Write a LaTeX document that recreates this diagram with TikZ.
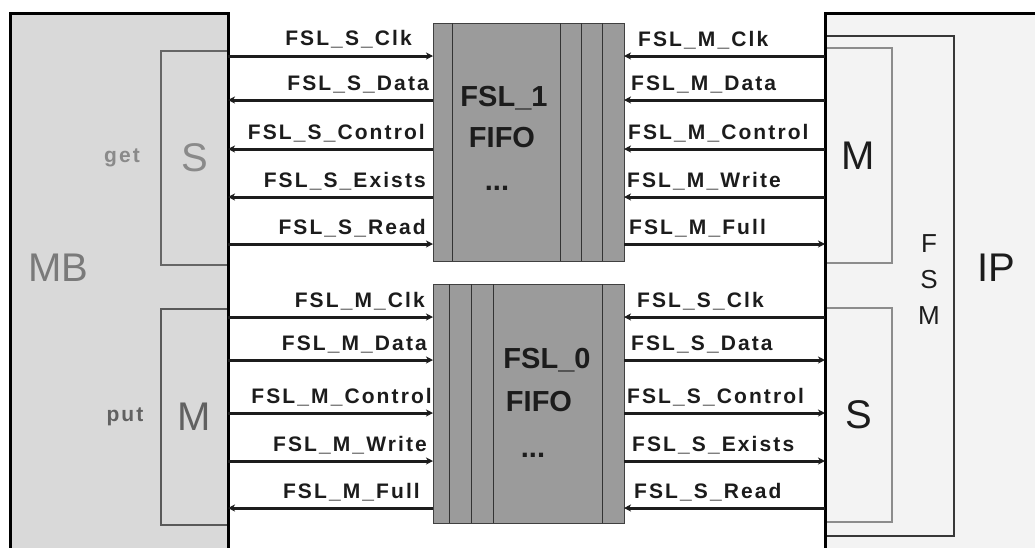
\documentclass[tikz,border=0pt]{standalone}
\usepackage{fontspec}
\setmainfont{Liberation Sans}
\newfontfamily\sigfont[LetterSpace=10]{Liberation Sans}
\usetikzlibrary{arrows.meta}
\definecolor{mbfill}{HTML}{D9D9D9}
\definecolor{ipfill}{HTML}{F3F3F3}
\definecolor{fifofill}{HTML}{9B9B9B}
\definecolor{ink}{HTML}{1C1C1C}
\definecolor{mbtext}{HTML}{8A8A8A}
\definecolor{mbtextdark}{HTML}{616161}
\begin{document}
\begin{tikzpicture}[x=1pt,y=-1pt,
  >={Stealth[length=7pt,width=7pt,inset=2pt]},
  box/.style={anchor=north west, inner sep=0pt, outer sep=0pt},
  border/.style={draw=black, line width=3pt},
  wire/.style={line width=3pt, draw=ink},
  sig/.style={font=\sigfont\bfseries\fontsize{21}{23}\selectfont, text=ink, inner sep=0pt},
  big/.style={font=\fontsize{40}{40}\selectfont, inner sep=0pt},
  fsm/.style={font=\fontsize{26}{26}\selectfont, inner sep=0pt, text=ink},
  fifotitle/.style={font=\bfseries\fontsize{29}{30}\selectfont, text=ink, inner sep=0pt},
  fifoline/.style={draw=black!80, line width=1pt},
  port/.style={box, draw, line width=1.3pt, font=\fontsize{40}{40}\selectfont},
]
\useasboundingbox (0,0) rectangle (1035,547);
\clip (0,0) rectangle (1035,547);

% ---------- MicroBlaze side ----------
\node[box, fill=mbfill, minimum width=218pt, minimum height=560pt] (mb) at (10,13) {};
\node[port, draw=black!60, text=mbtext, minimum width=67pt, minimum height=214pt] (mbS) at (161,51) {S};
\node[port, draw=black!65, text=mbtextdark, minimum width=67pt, minimum height=216pt] (mbM) at (161,309) {M};
\draw[border] (mb.south west) -- (mb.north west) -- (mb.north east) -- (mb.south east);
\node[big, text=black!52] (mbname) at (58,268) {MB};
\node[sig, text=mbtext] (get) at (122,158) {get};
\node[sig, text=mbtextdark] (put) at (125,417) {put};

% ---------- IP side ----------
\node[box, fill=ipfill, minimum width=300pt, minimum height=600pt] (ip) at (825,13) {};
\node[box, draw=black!78, line width=1.5pt, minimum width=129pt, minimum height=500pt] (fsmbox) at (825,36) {};
\node[port, draw=black!45, line width=2pt, text=ink, minimum width=67pt, minimum height=215pt] (ipM) at (825,48) {M};
\node[port, draw=black!45, line width=2pt, text=ink, minimum width=67pt, minimum height=214pt] (ipS) at (825,308) {S};
\draw[border] (ip.south west) -- (ip.north west) -- (ip.north east);
\node[fsm] (fsmF) at (929,244) {F};
\node[fsm] (fsmS) at (929,280) {S};
\node[fsm] (fsmM) at (929,316) {M};
\node[big, text=ink] (ipname) at (996,268) {IP};

% ---------- FIFOs ----------
\node[box, fill=fifofill, draw=black!75, line width=1pt, minimum width=191pt, minimum height=238pt] (fifoA) at (433,23) {};
\foreach \dx in {19,127,148,169}
  \draw[fifoline] ([xshift=\dx pt]fifoA.north west) -- ([xshift=\dx pt]fifoA.south west);
\node[fifotitle] (fifoAname) at (504,98) {FSL\_1};
\node[fifotitle] (fifoAtype) at (502,138) {FIFO};
\node[fifotitle, anchor=base] (fifoAdots) at (497,190) {...};

\node[box, fill=fifofill, draw=black!75, line width=1pt, minimum width=191pt, minimum height=239pt] (fifoB) at (433,284) {};
\foreach \dx in {16,38,60,169}
  \draw[fifoline] ([xshift=\dx pt]fifoB.north west) -- ([xshift=\dx pt]fifoB.south west);
\node[fifotitle] (fifoBname) at (547,360) {FSL\_0};
\node[fifotitle] (fifoBtype) at (539,402) {FIFO};
\node[fifotitle, anchor=base] (fifoBdots) at (533,457) {...};

% ---------- signal rows ----------
\coordinate (r1) at (0,56);
\coordinate (r2) at (0,100);
\coordinate (r3) at (0,149);
\coordinate (r4) at (0,197);
\coordinate (r5) at (0,244);
\coordinate (r6) at (0,317);
\coordinate (r7) at (0,360);
\coordinate (r8) at (0,413);
\coordinate (r9) at (0,461);
\coordinate (r10) at (0,508);

% MB slave port <-> FSL_1
\draw[wire,->] (mb.east |- r1) -- (fifoA.west |- r1);
\draw[wire,<-] (mb.east |- r2) -- (fifoA.west |- r2);
\draw[wire,<-] (mb.east |- r3) -- (fifoA.west |- r3);
\draw[wire,<-] (mb.east |- r4) -- (fifoA.west |- r4);
\draw[wire,->] (mb.east |- r5) -- (fifoA.west |- r5);
\node[sig, anchor=base east] (la1) at (412,45) {FSL\_S\_Clk};
\node[sig, anchor=base east] (la2) at (429,90) {FSL\_S\_Data};
\node[sig, anchor=base east] (la3) at (425,139) {FSL\_S\_Control};
\node[sig, anchor=base east] (la4) at (426,187) {FSL\_S\_Exists};
\node[sig, anchor=base east] (la5) at (426,234) {FSL\_S\_Read};

% IP master port <-> FSL_1
\draw[wire,<-] (fifoA.east |- r1) -- (ip.west |- r1);
\draw[wire,<-] (fifoA.east |- r2) -- (ip.west |- r2);
\draw[wire,<-] (fifoA.east |- r3) -- (ip.west |- r3);
\draw[wire,<-] (fifoA.east |- r4) -- (ip.west |- r4);
\draw[wire,->] (fifoA.east |- r5) -- (ip.west |- r5);
\node[sig, anchor=base west] (lb1) at (638,46) {FSL\_M\_Clk};
\node[sig, anchor=base west] (lb2) at (631,90) {FSL\_M\_Data};
\node[sig, anchor=base west] (lb3) at (628,139) {FSL\_M\_Control};
\node[sig, anchor=base west] (lb4) at (627,187) {FSL\_M\_Write};
\node[sig, anchor=base west] (lb5) at (629,234) {FSL\_M\_Full};

% MB master port <-> FSL_0
\draw[wire,->] (mb.east |- r6) -- (fifoB.west |- r6);
\draw[wire,->] (mb.east |- r7) -- (fifoB.west |- r7);
\draw[wire,->] (mb.east |- r8) -- (fifoB.west |- r8);
\draw[wire,->] (mb.east |- r9) -- (fifoB.west |- r9);
\draw[wire,<-] (mb.east |- r10) -- (fifoB.west |- r10);
\node[sig, anchor=base east] (lc1) at (425,307) {FSL\_M\_Clk};
\node[sig, anchor=base east] (lc2) at (427,350) {FSL\_M\_Data};
\node[sig, anchor=base east] (lc3) at (432,403) {FSL\_M\_Control};
\node[sig, anchor=base east] (lc4) at (427,451) {FSL\_M\_Write};
\node[sig, anchor=base east] (lc5) at (420,498) {FSL\_M\_Full};

% IP slave port <-> FSL_0
\draw[wire,<-] (fifoB.east |- r6) -- (ip.west |- r6);
\draw[wire,->] (fifoB.east |- r7) -- (ip.west |- r7);
\draw[wire,->] (fifoB.east |- r8) -- (ip.west |- r8);
\draw[wire,->] (fifoB.east |- r9) -- (ip.west |- r9);
\draw[wire,<-] (fifoB.east |- r10) -- (ip.west |- r10);
\node[sig, anchor=base west] (ld1) at (637,307) {FSL\_S\_Clk};
\node[sig, anchor=base west] (ld2) at (631,350) {FSL\_S\_Data};
\node[sig, anchor=base west] (ld3) at (627,403) {FSL\_S\_Control};
\node[sig, anchor=base west] (ld4) at (632,451) {FSL\_S\_Exists};
\node[sig, anchor=base west] (ld5) at (634,498) {FSL\_S\_Read};
\end{tikzpicture}
\end{document}
